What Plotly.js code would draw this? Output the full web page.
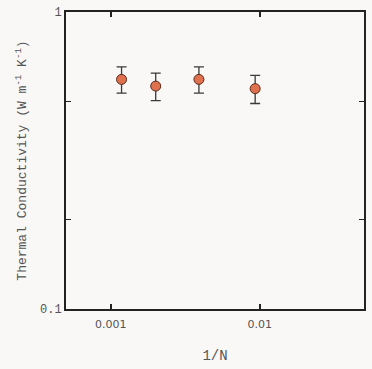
<!DOCTYPE html>
<html>
<head>
<meta charset="utf-8">
<script src="https://cdn.plot.ly/plotly-3.0.1.min.js"></script>
<style>html,body{margin:0;padding:0;background:#f9f8f7;}#chart{width:372px;height:369px;}</style>
</head>
<body>
<div id="chart"></div>
<script>
const invN = [0.00118, 0.0020, 0.0039, 0.0093];
const conductivity = [0.593, 0.563, 0.593, 0.552];
const errors = [0.06, 0.06, 0.06, 0.06];
const yTickVals = [0.1, 0.2, 0.5, 1];
const yTickText = ['0.1', '', '', '1'];
const xTickVals = [0.001, 0.01];
const xTickText = ['0.001', '0.01'];

const trace = {
  x: invN, y: conductivity, type: 'scatter', mode: 'markers',
  error_y: {type: 'data', array: errors, visible: true, color: '#3a3a3a', thickness: 1.3, width: 5},
  marker: {size: 10, color: '#e0714f', line: {color: '#5a2a1a', width: 1}}
};
const fnt = {family: 'Liberation Mono, monospace', size: 12, color: '#555'};
const layout = {
  width: 372, height: 369,
  margin: {l: 66, r: 8, t: 12, b: 60},
  paper_bgcolor: '#f9f8f7', plot_bgcolor: '#f9f8f7',
  showlegend: false,
  font: fnt,
  xaxis: {
    type: 'log', range: [Math.log10(0.0005), Math.log10(0.05)],
    tickvals: xTickVals, ticktext: xTickText,
    ticks: 'inside', ticklen: 5, tickwidth: 1.5, tickcolor: '#222',
    mirror: 'ticks', showline: true, linecolor: '#222', linewidth: 2,
    showgrid: false, zeroline: false, ticklabelstandoff: 4,
    tickfont: {family: 'DejaVu Sans, sans-serif', size: 11, color: '#555'},
    title: {text: '1/N', font: {family: 'Liberation Mono, monospace', size: 14, color: '#555'}, standoff: 20}
  },
  yaxis: {
    type: 'log', range: [-1, 0],
    tickvals: yTickVals, ticktext: yTickText,
    ticks: 'inside', ticklen: 5, tickwidth: 1.5, tickcolor: '#222',
    mirror: 'ticks', showline: true, linecolor: '#222', linewidth: 2,
    showgrid: false, zeroline: false,
    tickfont: {family: 'Liberation Mono, monospace', size: 12, color: '#555'},
    title: {text: 'Thermal Conductivity (W m<sup>-1</sup> K<sup>-1</sup>)', font: {family: 'Liberation Mono, monospace', size: 13, color: '#555'}, standoff: 10}
  }
};
Plotly.newPlot('chart', [trace], layout, {displayModeBar: false, staticPlot: true});
</script>
</body>
</html>
